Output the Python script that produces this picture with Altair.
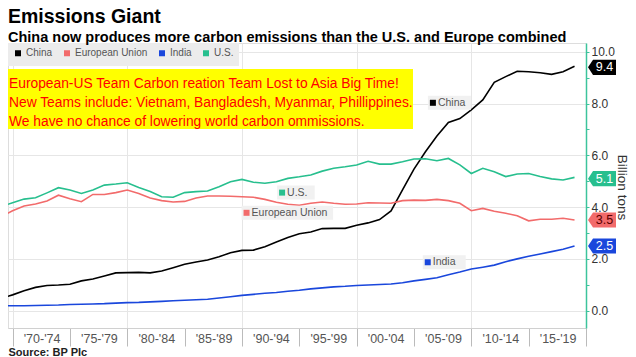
import altair as alt
import pandas as pd

# ---------------- data ----------------
years = list(range(1969, 2020))

china = [0.48, 0.61, 0.77, 0.90, 0.97, 0.99, 1.02, 1.15, 1.22, 1.34,
         1.46, 1.47, 1.48, 1.46, 1.53, 1.66, 1.79, 1.88, 1.96, 2.08,
         2.24, 2.33, 2.34, 2.47, 2.65, 2.83, 2.97, 3.04, 3.17, 3.18,
         3.18, 3.30, 3.39, 3.52, 3.85, 4.67, 5.47, 6.14, 6.75, 7.27,
         7.42, 7.76, 8.14, 8.82, 9.04, 9.25, 9.23, 9.19, 9.13, 9.23,
         9.44]
eu = [3.63, 3.86, 4.04, 4.12, 4.24, 4.46, 4.32, 4.21, 4.49, 4.49,
      4.56, 4.66, 4.53, 4.35, 4.25, 4.20, 4.22, 4.35, 4.43, 4.43,
      4.42, 4.40, 4.38, 4.30, 4.19, 4.11, 4.07, 4.15, 4.20, 4.15,
      4.11, 4.12, 4.17, 4.16, 4.15, 4.25, 4.27, 4.26, 4.30, 4.25,
      4.15, 3.86, 3.95, 3.84, 3.76, 3.67, 3.47, 3.53, 3.53, 3.57,
      3.50]
india = [0.19, 0.19, 0.19, 0.20, 0.21, 0.22, 0.24, 0.25, 0.26, 0.27,
         0.29, 0.31, 0.32, 0.34, 0.36, 0.38, 0.40, 0.42, 0.44, 0.49,
         0.54, 0.59, 0.63, 0.67, 0.70, 0.75, 0.79, 0.84, 0.88, 0.92,
         0.94, 0.97, 0.99, 1.01, 1.03, 1.08, 1.15, 1.21, 1.27, 1.39,
         1.49, 1.61, 1.68, 1.76, 1.89, 2.00, 2.10, 2.19, 2.28, 2.37,
         2.50]
us = [4.02, 4.17, 4.31, 4.36, 4.55, 4.75, 4.66, 4.53, 4.66, 4.85,
      4.89, 4.94, 4.76, 4.60, 4.40, 4.38, 4.56, 4.60, 4.62, 4.79,
      4.98, 5.07, 4.96, 4.92, 4.98, 5.11, 5.17, 5.24, 5.39, 5.50,
      5.56, 5.63, 5.77, 5.66, 5.66, 5.75, 5.86, 5.87, 5.79, 5.88,
      5.63, 5.30, 5.50, 5.37, 5.18, 5.28, 5.30, 5.18, 5.09, 5.05,
      5.15]

series_names = ["China", "European Union", "India", "U.S."]
series_colors = ["#000000", "#f26b6b", "#1a47dc", "#27bf8e"]

# end-of-line value tags
tag_series = ["China", "U.S.", "European Union", "India"]
tag_labels = ["9.4", "5.1", "3.5", "2.5"]
tag_text_colors = ["#ffffff", "#ffffff", "#5a0000", "#ffffff"]

# inline series labels
label_series = ["China", "U.S.", "European Union", "India"]
label_years = [2006.65, 1993.5, 1990.4, 2006.2]
label_values = [8.03, 4.56, 3.78, 1.87]

note_lines = [
    "European-US Team Carbon reation Team Lost to Asia Big Time!",
    "New Teams include: Vietnam, Bangladesh, Myanmar, Phillippines.",
    "We have no chance of lowering world carbon ommissions.",
]

x_ticks = list(range(1970, 2021, 5))
y_ticks = list(range(0, 11))

# ---------------- tables ----------------
rows = []
for name, vals in zip(series_names, [china, eu, india, us]):
    for yr, v in zip(years, vals):
        rows.append({"series": name, "year": yr, "value": v})
lines_df = pd.DataFrame(rows)

tags_df = pd.DataFrame({
    "series": tag_series,
    "label": tag_labels,
    "value": [float(t) for t in tag_labels],
    "tcolor": tag_text_colors,
})
labels_df = pd.DataFrame({"series": label_series, "year": label_years,
                          "value": label_values})
note_df = pd.DataFrame({"k": [0]})

FONT = "Liberation Sans"

color_scale = alt.Scale(domain=series_names, range=series_colors)
x_scale = alt.Scale(domain=[1969.6, 2020], nice=False, zero=False)
y_scale = alt.Scale(domain=[-0.67, 10.34], nice=False, zero=False)

x_axis = alt.Axis(
    values=x_ticks,
    labelExpr="datum.value < 2020 ? \"'\" + substring(toString(datum.value), 2, 4) + \"-'\" + substring(toString(datum.value + 4), 2, 4) : ''",
    labelOffset=29,
    labelAlign="center",
    tickSize=18,
    tickColor="#bbbbbb",
    grid=True,
    gridColor="#e6e6e6",
    gridOpacity={"condition": {"test": "datum.value % 10 == 0 && datum.value < 2015", "value": 1}, "value": 0},
    domainColor="#d0d0d0",
    labelFont=FONT,
    labelFontSize=12.5,
    labelColor="#555555",
    labelBaseline="middle",
    labelPadding=-8,
    labelFlush=False,
    labelOverlap=False,
    title="Source: BP Plc",
    titleFont=FONT,
    titleFontSize=11,
    titleFontWeight="bold",
    titleColor="#222222",
    titleAnchor="start",
    titleAlign="left",
    titleBaseline="alphabetic",
    titleX=0,
    titleY=27,
)
x_enc = alt.X("year:Q", scale=x_scale, axis=x_axis)

y_axis = alt.Axis(
    orient="right",
    values=y_ticks,
    labelExpr="datum.value % 2 == 0 ? format(datum.value, '.1f') : ''",
    tickSize=3,
    tickColor="#3cc49c",
    domainColor="#3cc49c",
    domainWidth=1.5,
    grid=True,
    gridColor="#e6e6e6",
    gridOpacity={"condition": {"test": "datum.value % 2 == 0", "value": 1}, "value": 0},
    labelFont=FONT,
    labelFontSize=12,
    labelColor="#333333",
    labelPadding=2,
    title="Billion tons",
    titleFont=FONT,
    titleFontSize=13.5,
    titleFontWeight="normal",
    titleColor="#333333",
    titleAngle=90,
    titleX=35,
    titleY=144,
    titleAlign="center",
    titleBaseline="middle",
)
y_enc = alt.Y("value:Q", scale=y_scale, axis=y_axis)

legend = alt.Legend(
    orient="none", legendX=0, legendY=0, direction="horizontal",
    title=None, fillColor="#ececec", padding=5, symbolType="square",
    symbolSize=9, symbolStrokeWidth=3, labelFont=FONT, labelFontSize=10,
    labelColor="#555555", columnPadding=6, labelOffset=3)

lines = alt.Chart(lines_df).mark_line(strokeWidth=1.6, clip=True).encode(
    x=x_enc, y=y_enc,
    color=alt.Color("series:N", scale=color_scale, legend=legend),
    detail="series:N",
)

# inline label backgrounds
label_bg = alt.Chart(labels_df).transform_calculate(
    x1="datum.year - 5/11.47",
    x2="datum.year + (length(datum.series) * 5.4 + 11) / 11.47",
    y1="datum.value - 7/25.9",
    y2="datum.value + 7/25.9",
).mark_rect(color="#f1f1f1").encode(
    x=alt.X("x1:Q", scale=x_scale, axis=x_axis), x2="x2:Q",
    y=alt.Y("y1:Q", scale=y_scale, axis=y_axis), y2="y2:Q",
)

label_sq = alt.Chart(labels_df).mark_square(size=36, opacity=1, strokeWidth=0).encode(
    x=x_enc, y=y_enc,
    fill=alt.Fill("series:N", scale=color_scale, legend=None),
)
label_txt = alt.Chart(labels_df).mark_text(
    align="left", baseline="middle", dx=5, font=FONT, fontSize=10.5, color="#555555"
).encode(x=x_enc, y=y_enc, text="series:N")

# end tags
tag_shape = "M-1,0L-0.64,-0.54L1,-0.54L1,0.54L-0.64,0.54Z"
tags = alt.Chart(tags_df).mark_point(
    shape=tag_shape, filled=True, size=784, opacity=1, strokeWidth=0
).encode(
    x=alt.value(594), y=y_enc,
    fill=alt.Fill("series:N", scale=color_scale, legend=None),
)
tag_txt = alt.Chart(tags_df).mark_text(
    align="center", baseline="middle", dx=2.5, font=FONT, fontSize=12.5
).encode(
    x=alt.value(594), y=y_enc, text="label:N",
    fill=alt.Fill("tcolor:N", scale=None),
)

# yellow note box
note_box = alt.Chart(note_df).mark_rect(color="#ffff00").encode(
    x=alt.value(0), x2=alt.value(405), y=alt.value(26), y2=alt.value(86)
)
note_txt = alt.Chart(note_df).mark_text(
    align="left", baseline="alphabetic", font=FONT, fontSize=13.8,
    color="#ff0000", lineHeight=19, text=note_lines
).encode(x=alt.value(1), y=alt.value(45))

chart = alt.layer(
    lines, label_bg, label_sq, label_txt, tags, tag_txt, note_box, note_txt
).properties(
    width=578, height=285,
    autosize=alt.AutoSizeParams(type="none"),
    padding={"left": 0, "top": 35, "right": 42, "bottom": 29},
    title=alt.TitleParams(
        text="Emissions Giant",
        subtitle="China now produces more carbon emissions than the U.S. and Europe combined",
        anchor="start", frame="group", font=FONT, fontSize=19.5, fontWeight="bold",
        color="#000000", subtitleFont=FONT, subtitleFontSize=14.5,
        subtitleFontWeight="bold", subtitleColor="#000000", subtitlePadding=3,
        offset=-2,
    ),
).configure_view(stroke=None).configure(background="#ffffff")

chart.save("out.html", embed_options={"renderer": "svg", "actions": False})
